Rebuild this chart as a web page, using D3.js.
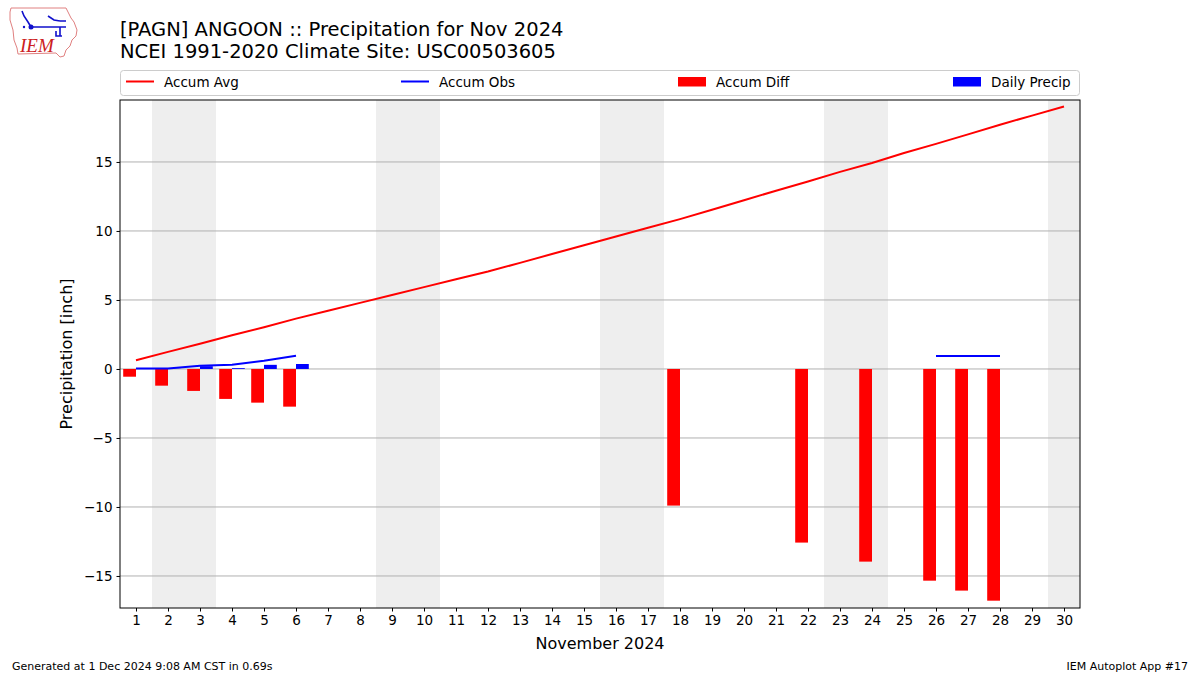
<!DOCTYPE html>
<html><head><meta charset="utf-8">
<script src="https://cdn.jsdelivr.net/npm/d3@7"></script>
<style>body{margin:0;background:#fff;} svg{display:block;font-family:"DejaVu Sans",sans-serif;}</style>
</head><body>
<svg id="c" width="1200" height="675"></svg>
<script>
const days = d3.range(1, 31);
const accumAvg = [0.63,1.24,1.83,2.44,3.03,3.65,4.22,4.79,5.36,5.93,6.50,7.06,7.69,8.33,8.96,9.60,10.23,10.86,11.54,12.23,12.92,13.58,14.28,14.93,15.65,16.31,17.00,17.70,18.36,19.02];
const accumObs = [0.03,0.04,0.24,0.30,0.60,0.96,null,null,null,null,null,null,null,null,null,null,null,0.96,null,null,null,0.96,null,0.96,null,0.94,0.94,0.94,null,null];
const accumDiff = [-0.56,-1.21,-1.59,-2.17,-2.44,-2.73,null,null,null,null,null,null,null,null,null,null,null,-9.90,null,null,null,-12.58,null,-13.96,null,-15.34,-16.06,-16.79,null,null];
const dailyPrecip = [0.03,0.01,0.20,0.06,0.30,0.36,null,null,null,null,null,null,null,null,null,null,null,null,null,null,null,null,null,null,null,null,null,null,null,null];
const weekendStarts = [2, 9, 16, 23, 30];
const yTicks = [-15,-10,-5,0,5,10,15];

const svg = d3.select("#c");
const L=120, R=1080, T=100, B=608;
const x = d3.scaleLinear().domain([0.5,30.5]).range([L,R]);
const y = d3.scaleLinear().domain([-17.32,19.49]).range([B,T]);

// weekend shading
svg.append("g").selectAll("rect").data(weekendStarts).join("rect")
  .attr("x", d=>x(d-0.5)).attr("width", d=>Math.min(x(d+1.5),R)-x(d-0.5))
  .attr("y",T).attr("height",B-T).attr("fill","#eeeeee");

// grid
svg.append("g").selectAll("line").data(yTicks).join("line")
  .attr("x1",L).attr("x2",R).attr("y1",d=>y(d)).attr("y2",d=>y(d))
  .attr("stroke","#b0b0b0").attr("stroke-width",1);

// diff bars
const dd = days.map((d,i)=>({d,v:accumDiff[i]})).filter(o=>o.v!=null);
svg.append("g").selectAll("rect").data(dd).join("rect")
  .attr("x",o=>x(o.d-0.4)).attr("width",o=>x(o.d)-x(o.d-0.4))
  .attr("y",o=>y(Math.max(0,o.v))).attr("height",o=>Math.abs(y(o.v)-y(0)))
  .attr("fill","#ff0000");
// daily precip bars
const dp = days.map((d,i)=>({d,v:dailyPrecip[i]})).filter(o=>o.v!=null);
svg.append("g").selectAll("rect").data(dp).join("rect")
  .attr("x",o=>x(o.d)).attr("width",o=>x(o.d+0.4)-x(o.d))
  .attr("y",o=>y(Math.max(0,o.v))).attr("height",o=>Math.abs(y(o.v)-y(0)))
  .attr("fill","#0000ff");

// lines
const line = d3.line().defined(d=>d[1]!=null).x(d=>x(d[0])).y(d=>y(d[1]));
svg.append("path").attr("d",line(days.map((d,i)=>[d,accumAvg[i]])))
  .attr("fill","none").attr("stroke","#ff0000").attr("stroke-width",2);
svg.append("path").attr("d",line(days.map((d,i)=>[d,accumObs[i]])))
  .attr("fill","none").attr("stroke","#0000ff").attr("stroke-width",2);

// axes
const fmt = d=> d<0 ? "\u2212"+Math.abs(d) : ""+d;
const xa = svg.append("g").attr("transform",`translate(0,${B})`)
  .call(d3.axisBottom(x).tickValues(days).tickSize(3.5).tickPadding(4).tickFormat(d3.format("d")));
const ya = svg.append("g").attr("transform",`translate(${L},0)`)
  .call(d3.axisLeft(y).tickValues(yTicks).tickSize(3.5).tickPadding(4).tickFormat(fmt));
[xa,ya].forEach(a=>{a.select(".domain").remove();
  a.selectAll("text").attr("font-size","13.5px").attr("fill","#000").attr("font-family","DejaVu Sans");
  a.selectAll("line").attr("stroke","#000");});

svg.append("rect").attr("x",L).attr("y",T).attr("width",R-L).attr("height",B-T)
  .attr("fill","none").attr("stroke","#000").attr("stroke-width",1);

// axis labels
svg.append("text").attr("x",(L+R)/2).attr("y",649).attr("text-anchor","middle")
  .attr("font-size","16px").text("November 2024");
svg.append("text").attr("transform",`translate(72,${(T+B)/2}) rotate(-90)`).attr("text-anchor","middle")
  .attr("font-size","16px").text("Precipitation [inch]");

// title
svg.append("text").attr("x",120).attr("y",36).attr("font-size","19.5px").text("[PAGN] ANGOON :: Precipitation for Nov 2024");
svg.append("text").attr("x",120).attr("y",58).attr("font-size","19.5px").text("NCEI 1991-2020 Climate Site: USC00503605");

// legend
const lg = svg.append("g");
lg.append("rect").attr("x",120.5).attr("y",70.5).attr("width",959).attr("height",25).attr("rx",3)
  .attr("fill","#fff").attr("stroke","#cccccc");
const items = [
  {label:"Accum Avg", type:"line", color:"#ff0000", x:126},
  {label:"Accum Obs", type:"line", color:"#0000ff", x:401},
  {label:"Accum Diff", type:"patch", color:"#ff0000", x:678},
  {label:"Daily Precip", type:"patch", color:"#0000ff", x:953}
];
items.forEach(it=>{
  if(it.type==="line") lg.append("line").attr("x1",it.x).attr("x2",it.x+28).attr("y1",81.5).attr("y2",81.5)
    .attr("stroke",it.color).attr("stroke-width",2);
  else lg.append("rect").attr("x",it.x).attr("y",77).attr("width",28).attr("height",9.5).attr("fill",it.color);
  lg.append("text").attr("x",it.x+38).attr("y",86.5).attr("font-size","13.5px").text(it.label);
});

// footer
svg.append("text").attr("x",12).attr("y",670).attr("font-size","11px").text("Generated at 1 Dec 2024 9:08 AM CST in 0.69s");
svg.append("text").attr("x",1188).attr("y",670).attr("text-anchor","end").attr("font-size","11px").text("IEM Autoplot App #17");

// logo
const lgo = svg.append("g");
lgo.append("path").attr("d","M11,8 L66,8 L68,12 L71,18 L74,22 L77,30 L76,36 L72,40 L70,46 L66,50 L64,56 L60,57 L56,53 L18,54 L17,48 L14,40 L13,30 L10,20 L10,12 Z")
  .attr("fill","none").attr("stroke","#e08080").attr("stroke-width",1);
lgo.append("path").attr("d","M22,11 L24,16 L28,22 L31,27 M31,27 L60,27 L60,36 M48,16 L54,20 L60,21 M60,21 L66,21 M60,27 L66,27 M56,31 L56,36 L62,36")
  .attr("fill","none").attr("stroke","#1010cc").attr("stroke-width",1.6);
lgo.append("circle").attr("cx",31).attr("cy",27).attr("r",2.5).attr("fill","#1010cc");
lgo.append("circle").attr("cx",24).attr("cy",27).attr("r",1.2).attr("fill","#1010cc");
lgo.append("text").attr("x",20).attr("y",52).attr("font-family","Liberation Serif").attr("font-style","italic")
  .attr("font-size","19px").attr("fill","#cc2020").text("IEM");
</script>
</body></html>
